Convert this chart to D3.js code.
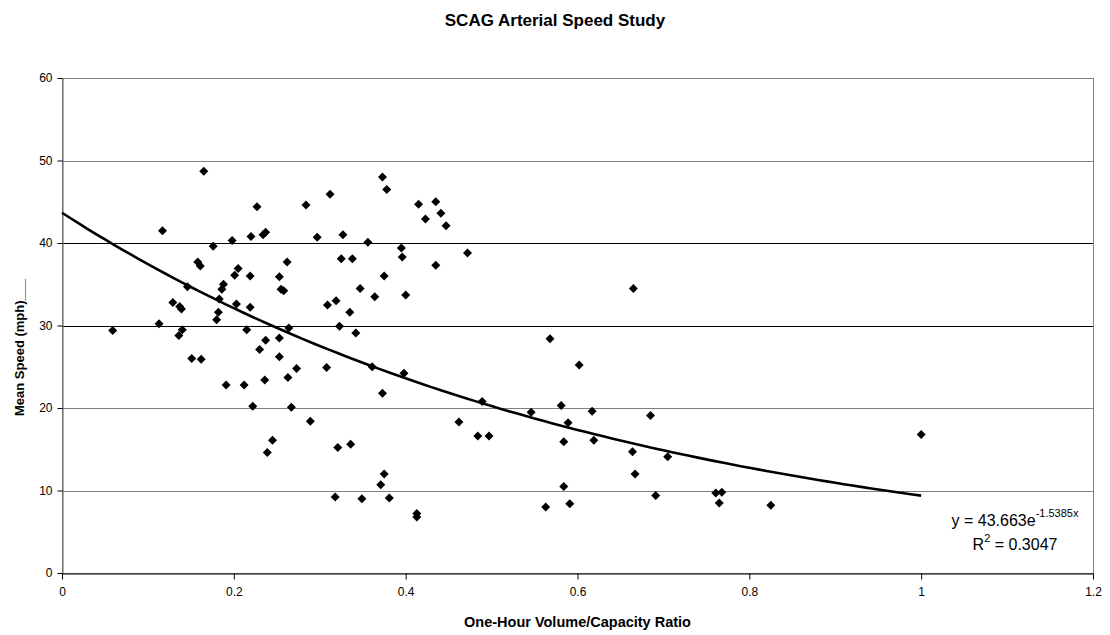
<!DOCTYPE html>
<html><head><meta charset="utf-8">
<script src="https://cdn.jsdelivr.net/npm/d3@7"></script>
<style>
body{margin:0;background:#fff}
text{font-family:Arial,"Liberation Sans",sans-serif;fill:#000}
</style>
</head><body>
<svg id="c" width="1110" height="635"></svg>
<script>
// Data
const vcRatio = [0.059,0.113,0.117,0.129,0.137,0.139,0.140,0.136,0.146,0.151,0.158,0.161,0.162,0.165,0.176,0.180,0.182,0.183,0.186,0.188,
  0.191,0.198,0.201,0.205,0.203,0.212,0.215,0.219,0.219,0.220,0.222,0.227,0.230,0.234,0.237,0.236,0.237,0.239,0.245,0.253,
  0.253,0.253,0.255,0.258,0.262,0.263,0.264,0.267,0.273,0.284,0.289,0.297,0.308,0.309,0.312,0.318,0.319,0.321,0.323,0.325,
  0.327,0.335,0.336,0.338,0.342,0.347,0.349,0.356,0.361,0.364,0.371,0.373,0.373,0.375,0.375,0.378,0.381,0.395,0.396,0.398,
  0.400,0.413,0.413,0.415,0.423,0.435,0.435,0.441,0.447,0.462,0.472,0.484,0.489,0.497,0.546,0.563,0.568,0.581,0.584,0.584,
  0.589,0.591,0.602,0.617,0.619,0.664,0.665,0.667,0.685,0.691,0.705,0.761,0.768,0.765,0.825,1.000];
const meanSpeed = [29.4,30.2,41.5,32.8,32.3,32.0,29.5,28.8,34.7,26.0,37.7,37.2,25.9,48.7,39.6,30.7,31.6,33.2,34.4,35.0,
  22.8,40.3,36.1,36.9,32.6,22.8,29.5,36.0,32.2,40.8,20.2,44.4,27.1,41.0,41.3,23.4,28.2,14.6,16.1,35.9,
  28.5,26.2,34.4,34.2,37.7,23.7,29.7,20.1,24.8,44.6,18.4,40.7,24.9,32.5,45.9,9.2,33.0,15.2,29.9,38.1,
  41.0,31.6,15.6,38.1,29.1,34.5,9.0,40.1,25.0,33.5,10.7,48.0,21.8,36.0,12.0,46.5,9.1,39.4,38.3,24.2,
  33.7,7.2,6.8,44.7,42.9,45.0,37.3,43.6,42.1,18.3,38.8,16.6,20.8,16.6,19.5,8.0,28.4,20.3,15.9,10.5,
  18.2,8.4,25.2,19.6,16.1,14.7,34.5,12.0,19.1,9.4,14.1,9.7,9.8,8.5,8.2,16.8];
const xTicks = [0,0.2,0.4,0.6,0.8,1,1.2];
const yTicks = [0,10,20,30,40,50,60];
const darkGrid = [30,40];
const trendCoef = 43.663, trendExp = -1.5385, trendEnd = 1.0;
const chartTitle = "SCAG Arterial Speed Study";
const xTitle = "One-Hour Volume/Capacity Ratio";
const yTitle = "Mean Speed (mph)___";

const svg = d3.select("#c");
const L = 62, R = 1093, T = 78, B = 573;
const x = d3.scaleLinear().domain([0,1.2]).range([L,R]);
const y = d3.scaleLinear().domain([0,60]).range([B,T]);

// gridlines
svg.append("g").selectAll("line").data(yTicks.filter(d=>d>0 && d<60)).join("line")
  .attr("x1",L).attr("x2",R).attr("y1",d=>Math.round(y(d))+0.5).attr("y2",d=>Math.round(y(d))+0.5)
  .attr("stroke",d=>darkGrid.includes(d)?"#000":"#808080").attr("stroke-width",1);

// plot border
svg.append("rect").attr("x",L+0.5).attr("y",Math.round(T)+0.5).attr("width",R-L).attr("height",B-T)
  .attr("fill","none").attr("stroke","#808080");

// axes
const xAxis = svg.append("g").attr("transform",`translate(0,${B+0.5})`)
  .call(d3.axisBottom(x).tickValues(xTicks).tickFormat(d=>String(d)).tickSize(6).tickSizeOuter(0));
const yAxis = svg.append("g").attr("transform",`translate(${L+0.5},0)`)
  .call(d3.axisLeft(y).tickValues(yTicks).tickSize(5).tickSizeOuter(0));
xAxis.select(".domain").attr("stroke","#000");
yAxis.select(".domain").attr("stroke","#606060");
xAxis.selectAll(".tick line").attr("stroke","#000");
yAxis.selectAll(".tick line").attr("stroke","#000");
xAxis.selectAll("text").attr("font-size",12).attr("font-family","Arial, Liberation Sans, sans-serif").attr("dy","1.15em").attr("fill","#000");
yAxis.selectAll("text").attr("font-size",12).attr("font-family","Arial, Liberation Sans, sans-serif").attr("x",-10).attr("fill","#000");

// markers
const diamond = "M0,-4.5L4.5,0L0,4.5L-4.5,0Z";
svg.append("g").selectAll("path").data(vcRatio.map((v,i)=>[v,meanSpeed[i]])).join("path")
  .attr("d",diamond).attr("transform",d=>`translate(${x(d[0])},${y(d[1])})`).attr("fill","#000");

// trendline from the displayed equation
const tx = d3.range(0, trendEnd+0.0001, 0.01);
svg.append("path").datum(tx.map(v=>[v,trendCoef*Math.exp(trendExp*v)]))
  .attr("d",d3.line().x(d=>x(d[0])).y(d=>y(d[1])).curve(d3.curveLinear))
  .attr("fill","none").attr("stroke","#000").attr("stroke-width",2.6);

// equation labels
const eq = svg.append("text").attr("x",1015).attr("y",526).attr("text-anchor","middle").attr("font-size",16);
eq.append("tspan").text("y = 43.663e");
eq.append("tspan").attr("dy",-9).attr("font-size",11).text("-1.5385x");
const r2 = svg.append("text").attr("x",1015).attr("y",550).attr("text-anchor","middle").attr("font-size",16);
r2.append("tspan").text("R");
r2.append("tspan").attr("dy",-8).attr("font-size",11).text("2");
r2.append("tspan").attr("dy",8).text(" = 0.3047");

// titles
svg.append("text").attr("x",555).attr("y",26).attr("text-anchor","middle")
  .attr("font-size",17).attr("font-weight","bold").text(chartTitle);
svg.append("text").attr("x",(L+R)/2).attr("y",627).attr("text-anchor","middle")
  .attr("font-size",14.5).attr("font-weight","bold").text(xTitle);
svg.append("text").attr("transform",`translate(24,416) rotate(-90)`).attr("text-anchor","start")
  .attr("font-size",13).attr("font-weight","bold").text(yTitle);
</script>
</body></html>
